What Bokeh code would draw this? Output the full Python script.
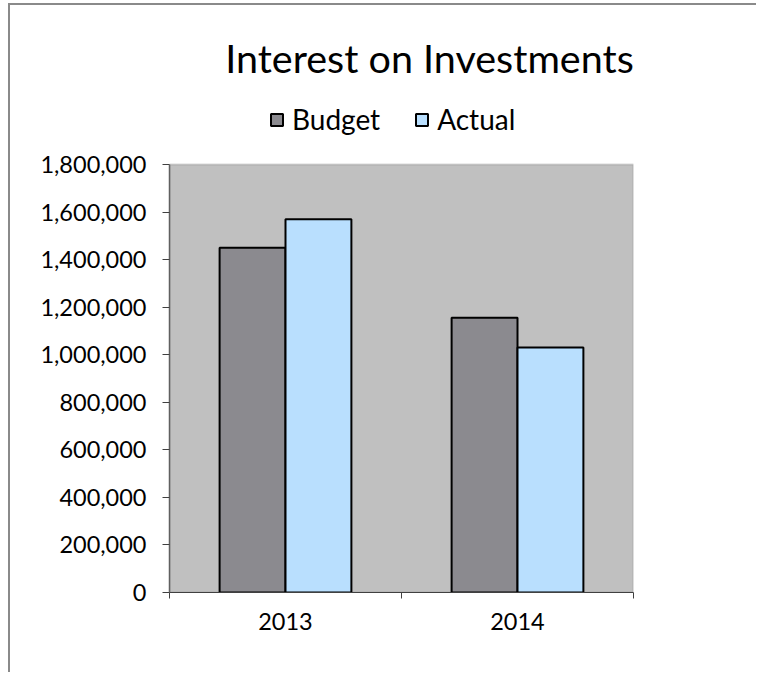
from bokeh.plotting import figure
from bokeh.models import (ColumnDataSource, FixedTicker, NumeralTickFormatter,
                          Legend, LegendItem, Range1d, BoxAnnotation, Label)
from bokeh.embed import file_html
from bokeh.resources import INLINE

# ---- data ----
categories = ["2013", "2014"]
budget = [1450000, 1155000]
actual = [1570000, 1030000]
series_names = ["Budget", "Actual"]
y_ticks = [0, 200000, 400000, 600000, 800000, 1000000, 1200000, 1400000, 1600000, 1800000]
y_max = 1800000
title_text = "Interest on Investments"

FONT = "Lato"
BAR_W = 0.284

W, H = 748, 669
MB_BOTTOM = 82
FRAME_H = H - MB_BOTTOM          # frame spans up to the top of the canvas
PLOT_H = 428                     # pixel height of the grey plot area
y_top = y_max * FRAME_H / PLOT_H

centers = [i + 0.5 for i in range(len(categories))]
src_b = ColumnDataSource(dict(x=[c - BAR_W / 2 for c in centers], top=budget))
src_a = ColumnDataSource(dict(x=[c + BAR_W / 2 for c in centers], top=actual))

p = figure(width=W, height=H, output_backend="svg", toolbar_location=None,
           x_range=Range1d(0, len(categories)), y_range=Range1d(0, y_top),
           min_border_left=159, min_border_right=125, min_border_top=0,
           min_border_bottom=MB_BOTTOM)
p.styles = {"border-top": "2px solid #8a8a8a", "border-left": "2px solid #8a8a8a",
            "margin-left": "8px", "margin-top": "3px"}

p.background_fill_color = "white"
p.border_fill_color = "white"
p.outline_line_color = None
p.xgrid.visible = False
p.ygrid.visible = False

# grey plot area
p.add_layout(BoxAnnotation(left=0, right=len(categories), bottom=0, top=y_max,
                           fill_color="#C0C0C0", fill_alpha=1,
                           line_color="#808080", line_width=2, level="underlay"))

rb = p.vbar(x="x", top="top", width=BAR_W, bottom=0, source=src_b,
            fill_color="#8B8A8F", line_color="black", line_width=2)
ra = p.vbar(x="x", top="top", width=BAR_W, bottom=0, source=src_a,
            fill_color="#B9DFFE", line_color="black", line_width=2)

# y axis
ya = p.yaxis[0]
ya.ticker = FixedTicker(ticks=y_ticks)
ya.bounds = (0, y_max)
ya.formatter = NumeralTickFormatter(format="0,0")
ya.major_label_text_font = FONT
ya.major_label_text_font_size = "23.5px"
ya.major_label_text_color = "black"
ya.major_tick_out = 7
ya.major_tick_in = 0
ya.minor_tick_out = 0
ya.minor_tick_in = 0
ya.major_label_standoff = 16
ya.axis_line_color = "#606060"
ya.axis_line_width = 1.5
ya.major_tick_line_color = "#404040"

# x axis
xa = p.xaxis[0]
xa.ticker = FixedTicker(ticks=centers, minor_ticks=list(range(len(categories) + 1)))
xa.major_label_overrides = {c: cat for c, cat in zip(centers, categories)}
xa.major_label_text_font = FONT
xa.major_label_text_font_size = "23.5px"
xa.major_label_text_color = "black"
xa.major_tick_out = 0
xa.major_tick_in = 0
xa.minor_tick_out = 6
xa.minor_tick_in = 0
xa.minor_tick_line_color = "#404040"
xa.major_label_standoff = 14
xa.axis_line_color = "#404040"

# legend
legend = Legend(items=[LegendItem(label=series_names[0], renderers=[rb]),
                       LegendItem(label=series_names[1], renderers=[ra])],
                orientation="horizontal", location=(100, 456))
legend.label_text_font = FONT
legend.label_text_font_size = "28px"
legend.label_text_color = "black"
legend.glyph_width = 15
legend.glyph_height = 15
legend.label_standoff = 8
legend.spacing = 34
legend.padding = 0
legend.margin = 0
legend.border_line_color = None
legend.background_fill_alpha = 0
p.add_layout(legend, "center")

# title
p.add_layout(Label(x=260, y=FRAME_H - 52, x_units="screen", y_units="screen",
                   text=title_text, text_font=FONT, text_font_size="39.5px",
                   text_color="black", text_align="center", text_baseline="middle"))

open("out.html", "w").write(file_html(p, INLINE))
